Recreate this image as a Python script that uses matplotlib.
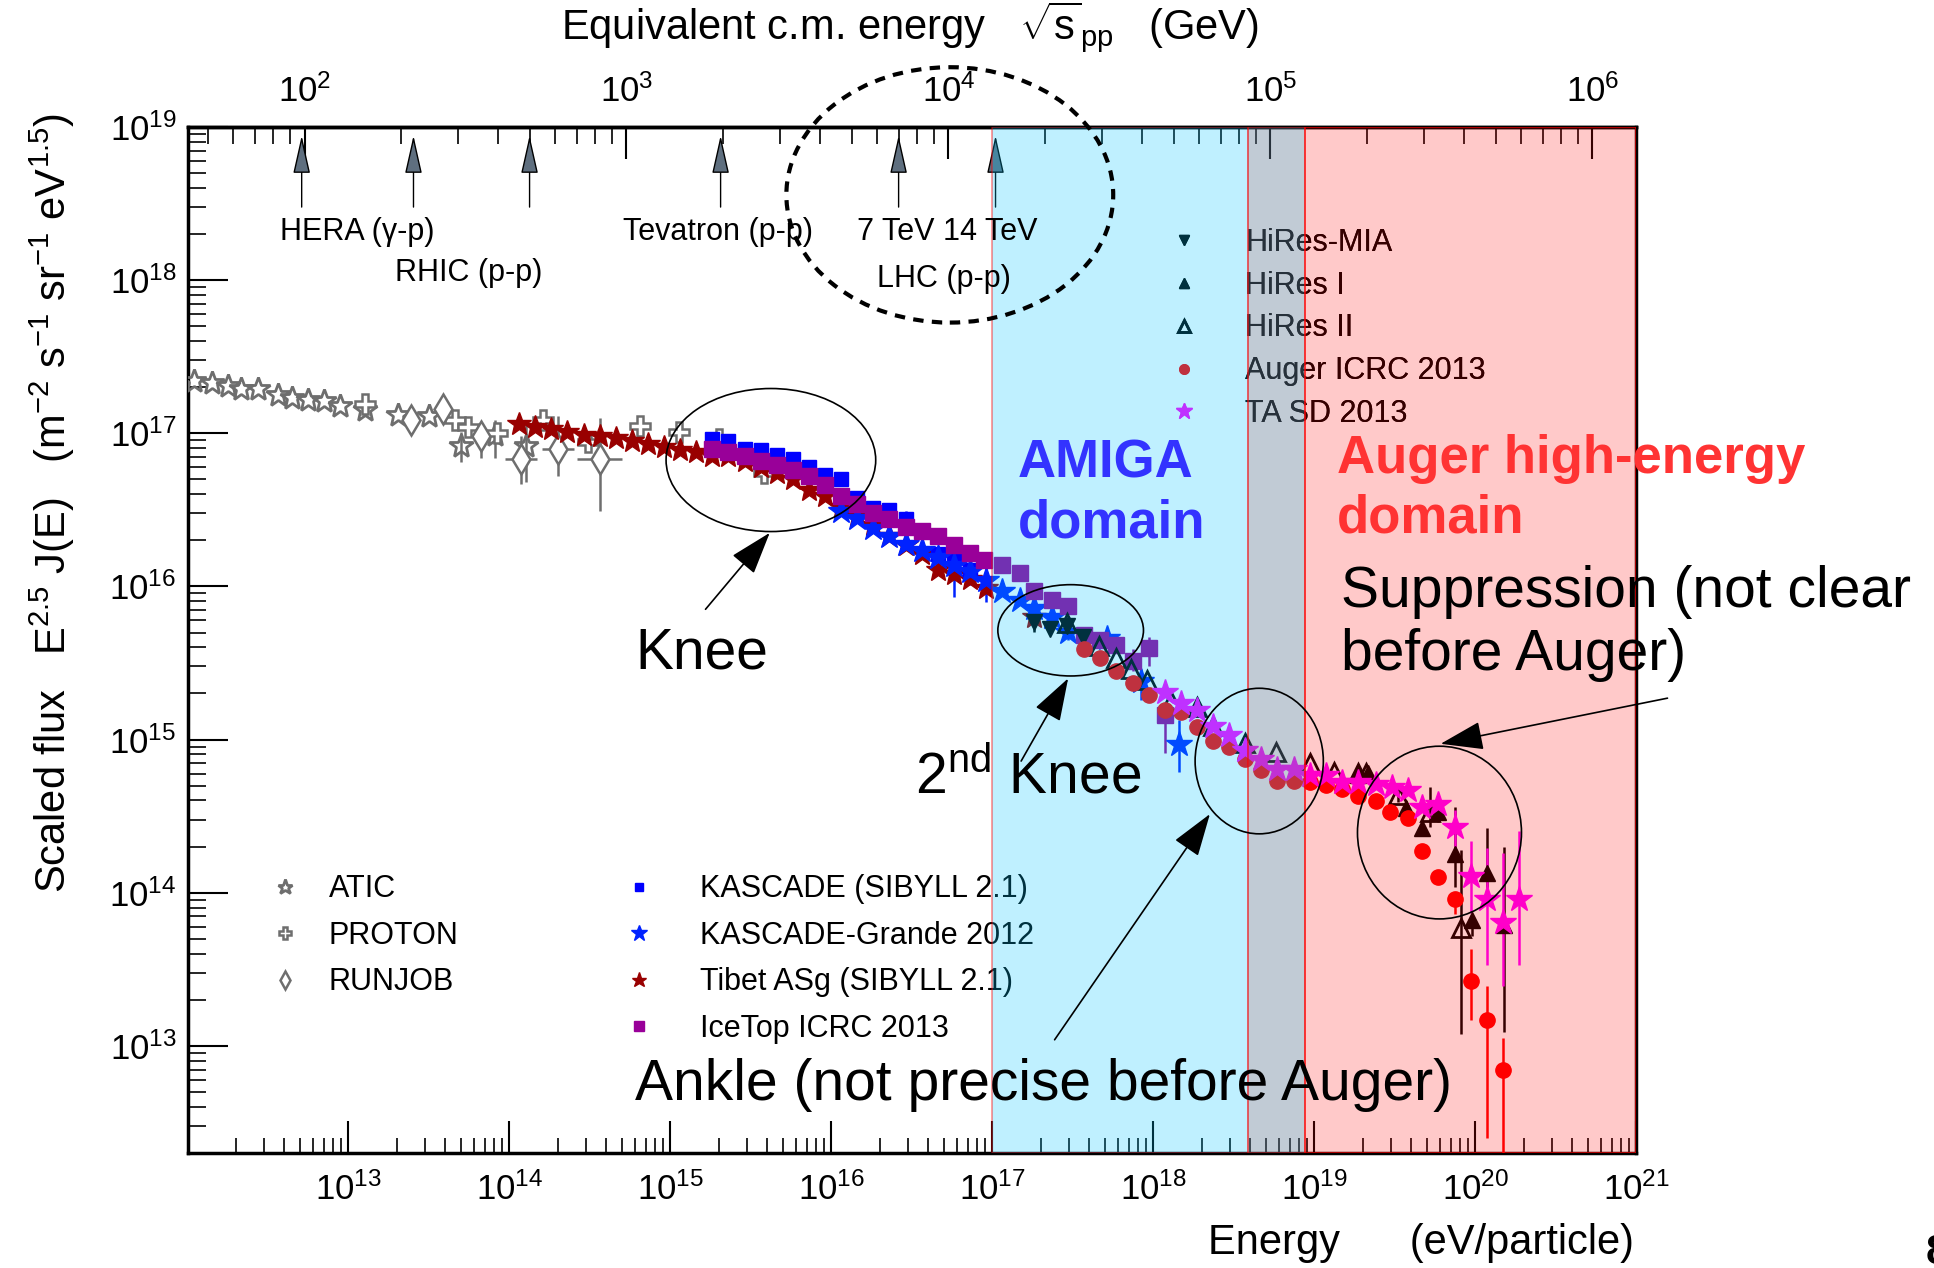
import numpy as np
import matplotlib
matplotlib.use('Agg')
import matplotlib.pyplot as plt
from matplotlib.patches import Ellipse
from matplotlib.ticker import LogLocator, NullFormatter, FixedLocator

plt.rcParams['font.family'] = ['Liberation Sans', 'DejaVu Sans']
plt.rcParams['mathtext.fontset'] = 'custom'
plt.rcParams['mathtext.rm'] = 'Liberation Sans'
plt.rcParams['mathtext.it'] = 'Liberation Sans:italic'
plt.rcParams['mathtext.bf'] = 'Liberation Sans:bold'

# ---- data (log10 E [eV], log10 E^2.5 J(E)) ----
atic_logE = [12.04, 12.15, 12.25, 12.33, 12.44, 12.56, 12.65, 12.75, 12.85, 12.95, 13.10, 13.31, 13.50, 13.70, 13.91, 14.10]
atic_logF = [17.34, 17.33, 17.31, 17.29, 17.29, 17.25, 17.23, 17.22, 17.21, 17.18, 17.15, 17.12, 17.11, 16.92, 16.99, 16.92]
atic_up = [0] * 13 + [0.09, 0.10, 0.15]
atic_dn = [0] * 13 + [0.11, 0.15, 0.24]

proton_logE = [13.10, 13.66, 13.74, 13.92, 14.21, 14.49, 14.81, 15.05, 15.30, 15.58]
proton_logF = [17.19, 17.09, 17.04, 17.00, 17.09, 16.94, 17.05, 17.01, 16.96, 16.74]

runjob_logE = [13.39, 13.59, 13.82, 14.07, 14.30, 14.56]
runjob_logF = [17.09, 17.16, 16.98, 16.83, 16.90, 16.83]
runjob_xerr = [0, 0, 0, 0.10, 0.10, 0.14]
runjob_up = [0, 0, 0.06, 0.15, 0.21, 0.27]
runjob_dn = [0, 0, 0.14, 0.16, 0.18, 0.34]

tibet_logE = [14.06, 14.16, 14.26, 14.36, 14.46, 14.56, 14.66, 14.76, 14.86, 14.96, 15.06, 15.16,
              15.26, 15.36, 15.46, 15.56, 15.66, 15.76, 15.86, 15.96, 16.06, 16.16, 16.26, 16.36,
              16.46, 16.56, 16.66, 16.76, 16.86, 16.96, 17.26]
tibet_logF = [17.06, 17.04, 17.03, 17.01, 16.99, 16.98, 16.97, 16.95, 16.93, 16.91, 16.89, 16.88,
              16.85, 16.85, 16.82, 16.78, 16.74, 16.70, 16.63, 16.59, 16.52, 16.46, 16.40, 16.33,
              16.27, 16.21, 16.11, 16.08, 16.05, 15.99, 15.80]

kascade_logE = [15.26, 15.36, 15.46, 15.56, 15.66, 15.76, 15.86, 15.96, 16.06, 16.16, 16.26, 16.36,
                16.46, 16.56, 16.66, 16.76, 16.86]
kascade_logF = [16.96, 16.95, 16.90, 16.89, 16.86, 16.83, 16.78, 16.73, 16.70, 16.58, 16.51, 16.50,
                16.44, 16.36, 16.21, 16.22, 16.11]
kascade_up = [0.04, 0.03, 0, 0, 0, 0, 0, 0, 0, 0, 0, 0, 0.05, 0, 0, 0.06, 0.10]
kascade_dn = [0.03, 0.03, 0, 0, 0, 0, 0, 0, 0, 0, 0, 0, 0.03, 0, 0, 0.06, 0.10]

kg_logE = [16.06, 16.16, 16.26, 16.36, 16.46, 16.56, 16.66, 16.76, 16.86, 16.96, 17.06, 17.17,
           17.26, 17.37, 17.47, 17.71, 17.92, 18.16]
kg_logF = [16.49, 16.45, 16.38, 16.33, 16.28, 16.24, 16.19, 16.14, 16.10, 16.04, 15.97, 15.91,
           15.86, 15.80, 15.70, 15.66, 15.38, 14.97]
kg_up = [0, 0, 0, 0, 0, 0, 0, 0.06, 0.05, 0.10, 0, 0, 0, 0, 0.05, 0.05, 0.08, 0.16]
kg_dn = [0, 0, 0, 0, 0, 0, 0, 0.21, 0.08, 0.14, 0, 0, 0, 0, 0.05, 0.05, 0.12, 0.18]

icetop_logE = [15.26, 15.36, 15.46, 15.56, 15.66, 15.76, 15.86, 15.96, 16.06, 16.16, 16.26, 16.36,
               16.46, 16.56, 16.66, 16.76, 16.86, 16.95, 17.06, 17.17, 17.26, 17.37, 17.47, 17.57,
               17.67, 17.77, 17.87, 17.97, 18.07]
icetop_logF = [16.90, 16.88, 16.85, 16.82, 16.79, 16.76, 16.72, 16.66, 16.59, 16.54, 16.48, 16.44,
               16.39, 16.36, 16.33, 16.27, 16.22, 16.17, 16.14, 16.09, 15.97, 15.91, 15.87, 15.68,
               15.65, 15.62, 15.51, 15.60, 15.16]
icetop_up = [0] * 26 + [0.08, 0.07, 0.06]
icetop_dn = [0] * 26 + [0.06, 0.12, 0.25]

mia_logE = [17.26, 17.36, 17.46, 17.56]
mia_logF = [15.77, 15.72, 15.74, 15.67]
mia_up = [0.15, 0, 0, 0]
mia_dn = [0.07, 0, 0, 0]

hires1_logE = [19.27, 19.33, 19.57, 19.67, 19.77, 19.87, 19.98, 20.07, 20.18]
hires1_logF = [14.77, 14.78, 14.55, 14.42, 14.53, 14.25, 13.82, 14.13, 13.79]
hires1_up = [0, 0, 0.05, 0.05, 0.07, 0.31, 0.03, 0.29, 0.51]
hires1_dn = [0, 0, 0.05, 0.05, 0.07, 0.21, 0.10, 0.10, 0.70]

hires2_logE = [17.46, 17.66, 17.77, 17.86, 17.96, 18.11, 18.27, 18.37, 18.57, 18.76, 18.97, 19.12,
               19.27, 19.32, 19.52, 19.72, 19.91]
hires2_logF = [15.76, 15.61, 15.53, 15.46, 15.39, 15.25, 15.21, 15.09, 14.98, 14.92, 14.85, 14.79,
               14.78, 14.78, 14.64, 14.53, 13.77]
hires2_up = [0] * 14 + [0.05, 0.16, 0.51]
hires2_dn = [0] * 14 + [0.05, 0.10, 0.69]

auger_logE = [17.57, 17.67, 17.77, 17.87, 17.97, 18.07, 18.17, 18.27, 18.37, 18.47, 18.57, 18.67,
              18.77, 18.87, 18.97, 19.07, 19.17, 19.27, 19.38, 19.47, 19.58, 19.67, 19.77, 19.87,
              19.97, 20.07, 20.17]
auger_logF = [15.59, 15.53, 15.45, 15.37, 15.29, 15.19, 15.18, 15.08, 14.99, 14.95, 14.87, 14.80,
              14.73, 14.73, 14.72, 14.70, 14.68, 14.63, 14.60, 14.53, 14.49, 14.27, 14.10, 13.96,
              13.42, 13.17, 12.84]
auger_up = [0] * 21 + [0.02, 0.03, 0.04, 0.21, 0.22, 0.21]
auger_dn = [0] * 21 + [0.02, 0.03, 0.10, 0.25, 0.77, 0.60]

ta_logE = [18.07, 18.17, 18.27, 18.37, 18.47, 18.57, 18.67, 18.77, 18.87, 18.97, 19.07, 19.17,
           19.27, 19.38, 19.48, 19.58, 19.67, 19.77, 19.87, 19.97, 20.07, 20.17, 20.27]
ta_logF = [15.31, 15.24, 15.19, 15.09, 15.03, 14.93, 14.87, 14.81, 14.81, 14.77, 14.77, 14.72,
           14.72, 14.71, 14.69, 14.67, 14.56, 14.58, 14.43, 14.11, 13.96, 13.81, 13.96]
ta_up = [0] * 18 + [0.11, 0.23, 0.33, 0.45, 0.44]
ta_dn = [0] * 18 + [0.13, 0.24, 0.43, 0.42, 0.43]

# colliders: equivalent sqrt(s) in GeV
collider_sqrts = [98, 218, 500, 1960, 7000, 14000]

# shaded domains (eV)
amiga_range = (1.0e17, 3.85e18)
overlap_range = (3.85e18, 8.7e18)
auger_range = (8.7e18, 1.0e21)

# labelled energy decades on the bottom axis
x_major = [1e13, 1e14, 1e15, 1e16, 1e17, 1e18, 1e19, 1e20, 1e21]

M_P = 0.938  # GeV


def e2s(E):
    return np.sqrt(np.maximum(np.asarray(E, dtype=float), 1e-30) * 2 * M_P / 1e9)


def s2e(s):
    return np.asarray(s, dtype=float) ** 2 / (2 * M_P) * 1e9


fig = plt.figure(figsize=(19.34, 12.68), dpi=100)
ax = fig.add_axes([0.09695, 0.0907, 0.7492, 0.8091])
ax.set_xscale('log')
ax.set_yscale('log')
ax.set_xlim(1e12, 1e21)
ax.set_ylim(10 ** 12.3, 1e19)


def draw(logE, logF, marker, color, label, up=None, dn=None, xerr=None,
         ms=10, mfc=None, mew=1.0, z=3):
    E = 10 ** np.array(logE)
    F = 10 ** np.array(logF)
    if up is not None:
        up = np.array(up)
        dn = np.array(dn)
        yerr = [F - F * 10 ** (-dn), F * 10 ** up - F]
        xe = None
        if xerr is not None:
            xerr = np.array(xerr)
            xe = [E - E * 10 ** (-xerr), E * 10 ** xerr - E]
        ax.errorbar(E, F, yerr=yerr, xerr=xe, fmt='none', ecolor=color,
                    elinewidth=1.8, capsize=0, zorder=z - 0.1)
    h, = ax.plot(E, F, ls='none', marker=marker, ms=ms, color=color,
                 mfc=mfc if mfc is not None else color, mec=color, mew=mew,
                 label=label, zorder=z)
    return h


gray = '#6e6e6e'
h_atic = draw(atic_logE, atic_logF, '*', gray, 'ATIC', atic_up, atic_dn, ms=18, mfc='none', mew=2)
h_proton = draw(proton_logE, proton_logF, 'P', gray, 'PROTON', ms=14, mfc='white', mew=1.8)
h_runjob = draw(runjob_logE, runjob_logF, 'd', gray, 'RUNJOB', runjob_up, runjob_dn, runjob_xerr,
                ms=15, mfc='white', mew=1.8)
h_tibet = draw(tibet_logE, tibet_logF, '*', '#990000', 'Tibet ASg (SIBYLL 2.1)', ms=18)
h_kascade = draw(kascade_logE, kascade_logF, 's', '#0000ff', 'KASCADE (SIBYLL 2.1)',
                 kascade_up, kascade_dn, ms=10)
h_kg = draw(kg_logE, kg_logF, '*', '#0022ff', 'KASCADE-Grande 2012', kg_up, kg_dn, ms=19)
h_icetop = draw(icetop_logE, icetop_logF, 's', '#990099', 'IceTop ICRC 2013',
                icetop_up, icetop_dn, ms=11)
h_mia = draw(mia_logE, mia_logF, 'v', 'black', 'HiRes-MIA', mia_up, mia_dn, ms=12)
h_hr1 = draw(hires1_logE, hires1_logF, '^', 'black', 'HiRes I', hires1_up, hires1_dn, ms=12)
h_hr2 = draw(hires2_logE, hires2_logF, '^', 'black', 'HiRes II', hires2_up, hires2_dn,
             ms=13, mfc='none', mew=2)
h_auger = draw(auger_logE, auger_logF, 'o', '#ff0000', 'Auger ICRC 2013', auger_up, auger_dn, ms=11)
h_ta = draw(ta_logE, ta_logF, '*', '#ff00ff', 'TA SD 2013', ta_up, ta_dn, ms=19)

# legends (drawn below the shaded domains so they get tinted like the original)
leg_kw = dict(loc='upper left', frameon=False, fontsize=22, borderpad=0, borderaxespad=0,
              handlelength=1.0, markerscale=0.62, numpoints=1)
leg1 = ax.legend(handles=[h_atic, h_proton, h_runjob], bbox_to_anchor=(0.0567, 0.2715),
                 handletextpad=0.94, labelspacing=0.54, **leg_kw)
leg2 = ax.legend(handles=[h_kascade, h_kg, h_tibet, h_icetop], bbox_to_anchor=(0.301, 0.2715),
                 handletextpad=1.5, labelspacing=0.54, **leg_kw)
leg3 = ax.legend(handles=[h_mia, h_hr1, h_hr2, h_auger, h_ta], bbox_to_anchor=(0.6772, 0.9019),
                 handletextpad=1.5, labelspacing=0.42, **leg_kw)
for lg in (leg1, leg2, leg3):
    lg.set_zorder(4)
    ax.add_artist(lg)

# collider arrows at the top
xt = ax.get_xaxis_transform()
for sq in collider_sqrts:
    E = s2e(sq)
    ax.annotate('', xy=(E, 0.9916), xycoords=xt, xytext=(E, 0.922), textcoords=xt,
                arrowprops=dict(arrowstyle='-|>,head_length=1.2,head_width=0.27',
                                mutation_scale=20, fc='#5f6f7f', ec='black', lw=1.0,
                                shrinkA=0, shrinkB=0),
                zorder=4, annotation_clip=False)

lab_kw = dict(fontsize=22, ha='center', va='center', zorder=4)
fig.text(0.1849, 0.8171, 'HERA (\u03b3-p)', **lab_kw)
fig.text(0.2423, 0.7850, 'RHIC (p-p)', **lab_kw)
fig.text(0.3712, 0.8171, 'Tevatron (p-p)', **lab_kw)
fig.text(0.4898, 0.8171, '7 TeV 14 TeV', **lab_kw)
fig.text(0.4879, 0.7802, 'LHC (p-p)', **lab_kw)

# shaded domains
ax.axvspan(*amiga_range, fc=(0, 0.78, 1.0, 0.25), ec=(1, 0, 0, 0.45), lw=1.2, zorder=5)
ax.axvspan(*overlap_range, fc=(100 / 255, 125 / 255, 150 / 255, 0.4), ec=(1, 0, 0, 0.45), lw=1.2, zorder=5)
ax.axvspan(*auger_range, fc=(1, 0, 0, 0.21), ec=(1, 0, 0, 0.7), lw=1.2, zorder=5)

# axes styling
for sp in ax.spines.values():
    sp.set_linewidth(2.5)
ax.xaxis.set_major_locator(FixedLocator(x_major))
ax.xaxis.set_minor_locator(LogLocator(base=10, subs=np.arange(2, 10), numticks=100))
ax.yaxis.set_major_locator(LogLocator(base=10, numticks=30))
ax.yaxis.set_minor_locator(LogLocator(base=10, subs=np.arange(2, 10), numticks=100))
ax.xaxis.set_minor_formatter(NullFormatter())
ax.yaxis.set_minor_formatter(NullFormatter())
ax.tick_params(which='both', direction='in', top=False, right=False, labelsize=25)
ax.tick_params(axis='x', which='major', length=23, width=1.5, pad=14)
ax.tick_params(axis='x', which='minor', length=11, width=1.2)
ax.tick_params(axis='y', which='major', length=29, width=1.5, pad=8)
ax.tick_params(axis='y', which='minor', length=13, width=1.2)

secax = ax.secondary_xaxis('top', functions=(e2s, s2e))
secax.tick_params(which='both', direction='in', labelsize=25, pad=13)
secax.tick_params(which='major', length=23, width=1.5)
secax.tick_params(which='minor', length=12, width=1.2)
secax.spines['top'].set_linewidth(2.5)

# axis titles
fig.text(0.4707, 0.9786, 'Equivalent c.m. energy   $\\sqrt{\\rm s}_{\\rm pp}$   (GeV)', fontsize=30,
         ha='center', va='center')
fig.text(0.845, 0.0195, 'Energy      (eV/particle)', fontsize=30, ha='right', va='center')
fig.text(0.0268, 0.6036,
         'Scaled flux   E$^{2.5}$ J(E)   (m$^{-2}$ s$^{-1}$ sr$^{-1}$ eV$^{1.5}$)',
         fontsize=30, rotation=90, ha='center', va='center')

# annotations
big = dict(fontsize=41, va='center', zorder=10)
fig.text(0.3629, 0.4844, 'Knee', ha='center', **big)
fig.text(0.4732, 0.3872, '2$^{\\rm nd}$ Knee', ha='left', **big)
fig.text(0.3284, 0.1440, 'Ankle (not precise before Auger)', ha='left', **big)
fig.text(0.6932, 0.5331, 'Suppression (not clear', ha='left', **big)
fig.text(0.6932, 0.4835, 'before Auger)', ha='left', **big)

dom = dict(fontsize=38, fontweight='bold', ha='left', va='center', zorder=10)
fig.text(0.5261, 0.6342, 'AMIGA', color='#3333ff', **dom)
fig.text(0.5261, 0.5875, 'domain', color='#3333ff', **dom)
fig.text(0.6913, 0.6381, 'Auger high-energy', color='#ff3333', **dom)
fig.text(0.6913, 0.5914, 'domain', color='#ff3333', **dom)

for (cx, cy, w, h) in [(0.3986, 0.6372, 0.1084, 0.1128),
                       (0.5536, 0.5029, 0.0753, 0.0720),
                       (0.6511, 0.3998, 0.0663, 0.1148),
                       (0.7443, 0.3434, 0.0848, 0.1362)]:
    fig.add_artist(Ellipse((cx, cy), w, h, transform=fig.transFigure, fill=False,
                           ec='black', lw=1.2, zorder=10))
fig.add_artist(Ellipse((0.4911, 0.8463), 0.1690, 0.2014, transform=fig.transFigure, fill=False,
                       ec='black', lw=3.0, ls=(0, (2.5, 2.0)), zorder=10))

arr = dict(arrowstyle='-|>,head_length=1.35,head_width=0.45', mutation_scale=20,
           fc='black', ec='black', lw=1.2, shrinkA=0, shrinkB=0)
for tail, tip in [((0.3648, 0.5195), (0.3980, 0.5798)),
                  ((0.5280, 0.3998), (0.5523, 0.4650)),
                  ((0.5453, 0.1800), (0.6256, 0.3580)),
                  ((0.8622, 0.4494), (0.7449, 0.4134))]:
    ax.annotate('', xy=tip, xycoords='figure fraction', xytext=tail,
                textcoords='figure fraction', arrowprops=arr, zorder=10,
                annotation_clip=False)

fig.text(0.9955, -0.004, '8', fontsize=30, fontweight='bold', ha='left', va='bottom')

fig.savefig('out.png', dpi=100)
